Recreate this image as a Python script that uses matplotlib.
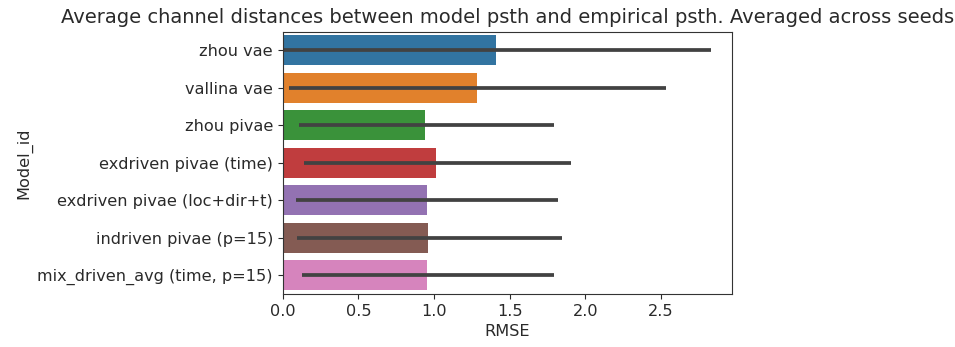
import colorsys
import matplotlib
matplotlib.use("Agg")
import matplotlib.pyplot as plt
import matplotlib.colors as mcolors

models = ["zhou vae", "vallina vae", "zhou pivae", "exdriven pivae (time)",
          "exdriven pivae (loc+dir+t)", "indriven pivae (p=15)",
          "mix_driven_avg (time, p=15)"]
rmse_mean = [1.409, 1.282, 0.941, 1.013, 0.952, 0.963, 0.952]
ci_low = [0.003, 0.042, 0.108, 0.139, 0.086, 0.094, 0.125]
ci_high = [2.830, 2.533, 1.790, 1.906, 1.820, 1.844, 1.790]

base = ["#1f77b4", "#ff7f0e", "#2ca02c", "#d62728", "#9467bd", "#8c564b", "#e377c2"]

def desat(c, prop=0.75):
    r, g, b = mcolors.to_rgb(c)
    h, l, s = colorsys.rgb_to_hls(r, g, b)
    return colorsys.hls_to_rgb(h, l, s * prop)

colors = [desat(c) for c in base]

txt = "#2a2a2a"
plt.rcParams.update({
    "font.size": 11.6,
    "text.color": txt,
    "axes.labelcolor": txt,
    "xtick.color": txt,
    "ytick.color": txt,
    "axes.edgecolor": "#333333",
})

fig = plt.figure(figsize=(9.55, 3.47), dpi=100)
ax = fig.add_axes([0.296, 0.1527, 0.4708, 0.7559])

pos = list(range(len(models)))
ax.barh(pos, rmse_mean, height=0.8, color=colors)
for p, m, lo, hi in zip(pos, rmse_mean, ci_low, ci_high):
    ax.plot([lo, hi], [p, p], color=".26", lw=2.7, solid_capstyle="butt")

ax.set_yticks(pos)
ax.set_yticklabels(models, fontsize=11.6)
ax.tick_params(axis="x", labelsize=11.6)
ax.set_ylim(len(models) - 0.5, -0.5)
ax.set_xlim(0, None)
ax.set_xlabel("RMSE", fontsize=11.6)
ax.set_ylabel("Model_id", fontsize=11.6)
ax.set_title("Average channel distances between model psth and empirical psth. Averaged across seeds",
             fontsize=14)

fig.savefig("out.png", dpi=100)
